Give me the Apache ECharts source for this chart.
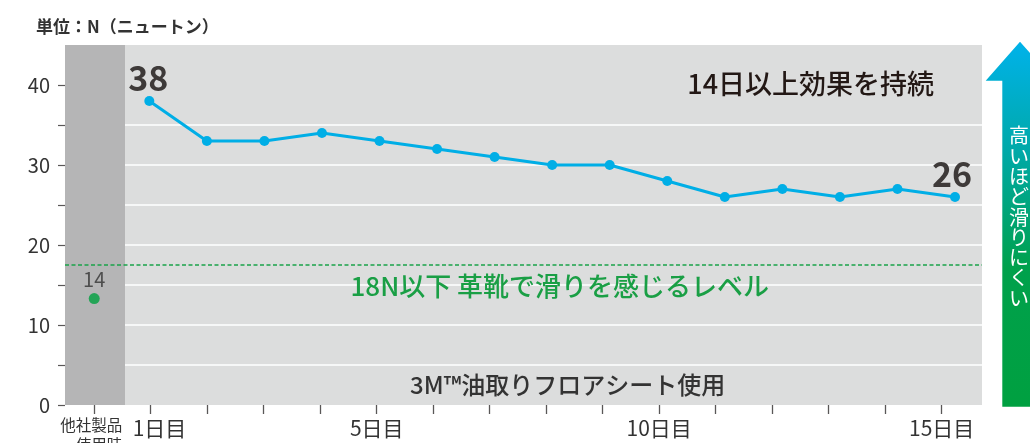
<!DOCTYPE html>
<html>
<head>
<meta charset="utf-8">
<script src="https://cdn.jsdelivr.net/npm/echarts@6/dist/echarts.min.js"></script>
<style>
html, body { margin: 0; padding: 0; background: #fff; }
#echarts { width: 1030px; height: 443px; }
</style>
</head>
<body>
<div id="echarts"></div>
<script>
// 横軸の項目（0 = 他社製品使用時, 1〜15 = 日数）
var categories = ['他社製品\n使用時', '1日目', '2日目', '3日目', '4日目', '5日目', '6日目', '7日目',
	'8日目', '9日目', '10日目', '11日目', '12日目', '13日目', '14日目', '15日目'];
var xTicks = [0, 1, 2, 3, 4, 5, 6, 7, 8, 9, 10, 11, 12, 13, 14, 15];
var xLabelShown = [0, 1, 5, 10, 15];

// 3M油取りフロアシート使用時の値（N）
var days = [1, 2, 3, 4, 5, 6, 7, 8, 9, 10, 11, 12, 13, 14, 15];
var grip = [38, 33, 33, 34, 33, 32, 31, 30, 30, 28, 26, 27, 26, 27, 26];

// 他社製品使用時
var otherVal = 13.3;
var otherLabel = '14';

// 革靴で滑りを感じるレベル
var limitVal = 17.5;

var yTicks = [0, 5, 10, 15, 20, 25, 30, 35, 40];
var yLabels = [0, 10, 20, 30, 40];

var FONT = '"Noto Sans CJK JP", "Noto Sans", sans-serif';
var xMin0 = -0.517, xMax0 = 15.713;   // 目盛り用
var xMin1 = -0.465, xMax1 = 15.469;   // 折れ線用
var bandEnd = 0.545;

var lineData = days.map(function (d, i) {
	var item = { value: [d, grip[i]] };
	if (i === 0) {
		item.label = { show: true, position: 'top', distance: 1, offset: [-1, 0] };
	} else if (i === days.length - 1) {
		item.label = { show: true, position: 'top', distance: 1, offset: [-3, 0] };
	}
	return item;
});

var myecharts = echarts.init(document.getElementById('echarts'));
var option = {
	animation: false,
	textStyle: { fontFamily: FONT },
	title: {
		text: '単位：N（ニュートン）',
		left: 31,
		top: 13,
		textStyle: { fontSize: 17, fontWeight: 'bold', color: '#333', fontFamily: FONT }
	},
	grid: {
		left: 65, right: 48, top: 45, bottom: 38,
		containLabel: false,
		outerBoundsMode: 'none',
		show: true, backgroundColor: '#dcdddd', borderWidth: 0, z: -2
	},
	xAxis: [{
		type: 'value',
		min: xMin0,
		max: xMax0,
		axisLine: { show: false, onZero: false },
		splitLine: { show: false },
		axisTick: { show: true, customValues: xTicks, length: 9, lineStyle: { color: '#595757', width: 1.3 } },
		axisLabel: {
			customValues: xLabelShown,
			margin: 10,
			color: '#333',
			hideOverlap: false,
			showMinLabel: true,
			formatter: function (v) {
				if (v === 0) return '{o|他社製品}\n{o|使用時}';
				if (v === 1) return '{f|' + categories[v] + '}';
				return '{d|' + categories[v] + '}';
			},
			rich: {
				o: { fontSize: 15.5, lineHeight: 20, width: 56, align: 'right', color: '#333', fontFamily: FONT },
				f: { fontSize: 21, lineHeight: 24, width: 36, align: 'left', color: '#333', padding: [3, 0, 0, 0], fontFamily: FONT },
				d: { fontSize: 21, lineHeight: 24, color: '#333', padding: [3, 0, 0, 0], fontFamily: FONT }
			}
		}
	}, {
		type: 'value',
		min: xMin1,
		max: xMax1,
		show: false
	}],
	yAxis: {
		type: 'value',
		min: 0,
		max: 45,
		interval: 5,
		axisLine: { show: false, onZero: false },
		axisTick: { show: true, customValues: yTicks, length: 7, lineStyle: { color: '#595757', width: 1.2 } },
		axisLabel: { customValues: yLabels, margin: 15, fontSize: 20, color: '#333' },
		splitLine: { show: true, showMinLine: false, showMaxLine: false, lineStyle: { color: '#fff', width: 1.5 } }
	},
	series: [{
		// 他社製品の帯
		name: 'band',
		type: 'line',
		xAxisIndex: 0,
		data: [],
		z: -1,
		silent: true,
		markArea: {
			silent: true,
			itemStyle: { color: '#b5b5b6' },
			data: [[{ xAxis: xMin0, yAxis: 0 }, { xAxis: bandEnd, yAxis: 45 }]]
		}
	}, {
		// 18N ラインと注記
		name: 'limit',
		type: 'line',
		xAxisIndex: 0,
		data: [],
		silent: true,
		markLine: {
			silent: true,
			symbol: 'none',
			label: { show: false },
			lineStyle: { color: '#1aa24a', type: [4, 2.5], width: 1.5 },
			data: [{ yAxis: limitVal }]
		},
		markPoint: {
			silent: true,
			symbol: 'circle',
			symbolSize: 0,
			label: { show: true, position: 'inside', formatter: '{b}', fontFamily: FONT, fontWeight: 500 },
			data: [
				{ name: '18N以下 革靴で滑りを感じるレベル', coord: [8.24, 14.8],
					label: { fontSize: 26, color: '#1a9f45' } },
				{ name: '14日以上効果を持続', coord: [12.68, 40.1],
					label: { fontSize: 27, color: '#231815' } },
				{ name: '3M™油取りフロアシート使用', coord: [8.38, 2.5],
					label: { fontSize: 24, color: '#333' } }
			]
		}
	}, {
		name: '3M',
		type: 'line',
		xAxisIndex: 1,
		data: lineData,
		symbol: 'circle',
		symbolSize: 10,
		lineStyle: { color: '#00aee6', width: 3 },
		itemStyle: { color: '#00aee6' },
		label: {
			show: false,
			fontSize: 34,
			fontWeight: 'bold',
			color: '#3e3a39',
			formatter: function (p) { return p.value[1]; }
		}
	}, {
		name: 'other',
		type: 'scatter',
		xAxisIndex: 0,
		data: [[0, otherVal]],
		symbolSize: 11,
		itemStyle: { color: '#00a040' },
		label: {
			show: true,
			position: 'top',
			distance: 3.5,
			fontSize: 20,
			color: '#333',
			formatter: otherLabel
		}
	}],
	graphic: [{
		type: 'polygon',
		silent: true,
		shape: {
			points: [[1020, 41.7], [1054.3, 80.7], [1037.7, 80.7], [1037.7, 406.7],
				[1002.3, 406.7], [1002.3, 80.7], [985.7, 80.7]]
		},
		style: {
			fill: {
				type: 'linear', x: 0, y: 0, x2: 0, y2: 1,
				colorStops: [
					{ offset: 0, color: '#00b2ea' },
					{ offset: 0.3, color: '#00a9a8' },
					{ offset: 0.62, color: '#00a14c' },
					{ offset: 1, color: '#00a040' }
				]
			}
		}
	}, {
		type: 'text',
		silent: true,
		x: 1019,
		y: 217,
		style: {
			text: '高\nい\nほ\nど\n滑\nり\nに\nく\nい',
			fill: '#fff',
			fontSize: 20,
			lineHeight: 20.3,
			fontFamily: FONT,
			align: 'center',
			verticalAlign: 'middle'
		}
	}]
};
myecharts.setOption(option);
</script>
</body>
</html>
